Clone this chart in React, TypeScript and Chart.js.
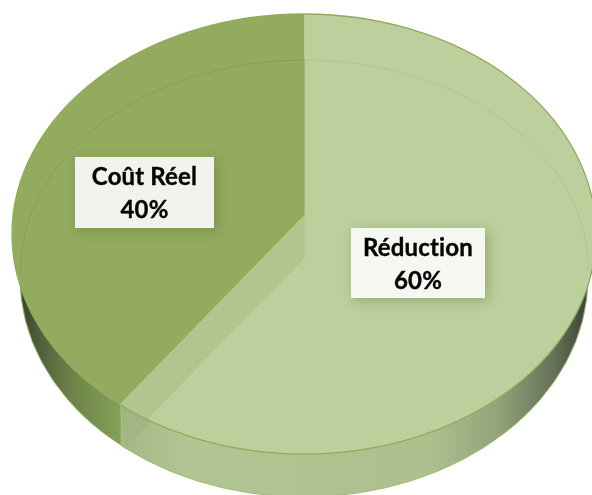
import React, { useEffect, useRef } from "react";
import { Chart, registerables } from "chart.js";

Chart.register(...registerables);

const categories = ["Réduction", "Coût Réel"];
const values = [60, 40];
const sliceColors = ["#BCCF9C", "#93AB5E"];
const labelBoxes = [
  { x: 351, y: 228, w: 134, h: 70, fill: "#F5F8F1" },
  { x: 75, y: 157, w: 139, h: 71, fill: "#F2F3EE" },
];

const top = { cx: 304, cy: 234, rx: 292, ry: 220 };
const ring = { cx: 304.5, cy: 270, rx: 284, ry: 210 };
const base = { cx: 304, cy: 278, rx: 284, ry: 219 };
const apex = { x: 304.5, y: 215 };
const SQUASH = 0.745;
const WALL = 43;

const pieFx = {
  id: "pieFx",
  beforeDatasetsDraw(chart: any) {
    const { ctx } = chart;
    const meta = chart.getDatasetMeta(0);
    const arc = meta.data[0];
    const cut = arc.endAngle;
    const dx = Math.cos(cut);
    const dy = Math.sin(cut) * SQUASH;

    // side wall
    ctx.save();
    const g = ctx.createLinearGradient(20, 0, 588, 0);
    g.addColorStop(0, "#3a4230");
    g.addColorStop(0.03, "#4f5c38");
    g.addColorStop(0.09, "#6d8248");
    g.addColorStop(0.176, "#84a057");
    g.addColorStop(0.178, "#a5b787");
    g.addColorStop(0.3, "#b2c594");
    g.addColorStop(0.72, "#aebf8e");
    g.addColorStop(0.84, "#94a47a");
    g.addColorStop(0.94, "#667256");
    g.addColorStop(1, "#3a4334");
    ctx.beginPath();
    ctx.ellipse(base.cx, base.cy, base.rx, base.ry, 0, 0, Math.PI * 2);
    ctx.fillStyle = g;
    ctx.fill();
    ctx.strokeStyle = "#9dbb6e";
    ctx.lineWidth = 1;
    ctx.stroke();
    ctx.restore();

    // seam on the wall, where the two slices meet
    const t = 313;
    const px = apex.x + dx * t;
    const py = apex.y + dy * t;
    ctx.save();
    ctx.beginPath();
    ctx.ellipse(base.cx, base.cy, base.rx, base.ry, 0, 0, Math.PI * 2);
    ctx.clip();
    ctx.beginPath();
    ctx.moveTo(px, py);
    ctx.lineTo(px + 32, py + 17);
    ctx.lineTo(px + 3, py + 44);
    ctx.closePath();
    ctx.fillStyle = "#a3b583";
    ctx.fill();
    ctx.beginPath();
    ctx.moveTo(px, py);
    ctx.lineTo(px + 3, py + 42);
    ctx.strokeStyle = "#a4c676";
    ctx.lineWidth = 1;
    ctx.stroke();
    ctx.restore();

    // top face: the library's arcs, cut to the ellipse
    ctx.save();
    ctx.beginPath();
    ctx.ellipse(top.cx, top.cy, top.rx, top.ry, 0, 0, Math.PI * 2);
    ctx.clip();
    ctx.translate(apex.x, apex.y);
    ctx.scale(1.5, 1.5 * SQUASH);
    ctx.translate(-arc.x, -arc.y);
  },
  afterDatasetsDraw(chart: any) {
    const { ctx } = chart;
    ctx.restore();
    const meta = chart.getDatasetMeta(0);
    const cut = meta.data[0].endAngle;
    const dx = Math.cos(cut);
    const dy = Math.sin(cut) * SQUASH;

    // inner wall band
    ctx.save();
    ctx.beginPath();
    ctx.ellipse(top.cx, top.cy, top.rx, top.ry, 0, 0, Math.PI * 2);
    ctx.clip();
    ctx.beginPath();
    ctx.moveTo(apex.x, apex.y);
    ctx.lineTo(apex.x, apex.y + WALL);
    ctx.lineTo(apex.x + dx * 400, apex.y + WALL + dy * 400);
    ctx.lineTo(apex.x + dx * 400, apex.y + dy * 400);
    ctx.closePath();
    ctx.fillStyle = "#B1C58F";
    ctx.fill();

    // faint bevel ring
    ctx.beginPath();
    ctx.rect(0, 0, apex.x, 495);
    ctx.save();
    ctx.clip();
    ctx.beginPath();
    ctx.ellipse(ring.cx, ring.cy, ring.rx, ring.ry, 0, Math.PI, Math.PI * 2);
    ctx.strokeStyle = "#84a04e";
    ctx.lineWidth = 1;
    ctx.stroke();
    ctx.restore();
    ctx.beginPath();
    ctx.rect(apex.x, 0, 300, 495);
    ctx.clip();
    ctx.beginPath();
    ctx.ellipse(ring.cx, ring.cy, ring.rx, ring.ry, 0, Math.PI, Math.PI * 2);
    ctx.strokeStyle = "#afc68b";
    ctx.lineWidth = 1;
    ctx.stroke();
    ctx.restore();

    // rim of the top face
    ctx.beginPath();
    ctx.ellipse(top.cx, top.cy, top.rx, top.ry, 0, 0, Math.PI * 2);
    ctx.strokeStyle = "#8dad5c";
    ctx.lineWidth = 1.3;
    ctx.stroke();

    // labels
    categories.forEach((name, i) => {
      const b = labelBoxes[i];
      ctx.save();
      ctx.shadowColor = "rgba(70,90,30,0.3)";
      ctx.shadowBlur = 11;
      ctx.shadowOffsetX = 3;
      ctx.shadowOffsetY = 3;
      ctx.fillStyle = b.fill;
      ctx.fillRect(b.x, b.y, b.w, b.h);
      ctx.restore();
      ctx.save();
      ctx.fillStyle = "#050505";
      ctx.strokeStyle = "#050505";
      ctx.lineWidth = 0.35;
      ctx.font = "bold 24px Lato";
      ctx.letterSpacing = "0.15px";
      ctx.textAlign = "center";
      ctx.textBaseline = "middle";
      const mid = b.x + b.w / 2;
      [name, values[i] + "%"].forEach((line, k) => {
        const y = b.y + 20 + k * 33;
        ctx.fillText(line, mid, y);
        ctx.strokeText(line, mid, y);
      });
      ctx.restore();
    });
  },
};

export default function App() {
  const ref = useRef<HTMLCanvasElement>(null);
  useEffect(() => {
    document.body.style.margin = "0";
    document.body.style.background = "#fff";
    const chart = new Chart(ref.current!, {
      type: "pie",
      data: {
        labels: categories,
        datasets: [
          {
            data: values,
            backgroundColor: sliceColors,
            borderWidth: 0,
            clip: false,
          } as any,
        ],
      },
      options: {
        animation: false,
        responsive: false,
        events: [],
        layout: { padding: 0 },
        plugins: { legend: { display: false }, tooltip: { enabled: false } },
      },
      plugins: [pieFx],
    });
    return () => chart.destroy();
  }, []);
  return <canvas ref={ref} width={592} height={495} style={{ display: "block" }} />;
}
